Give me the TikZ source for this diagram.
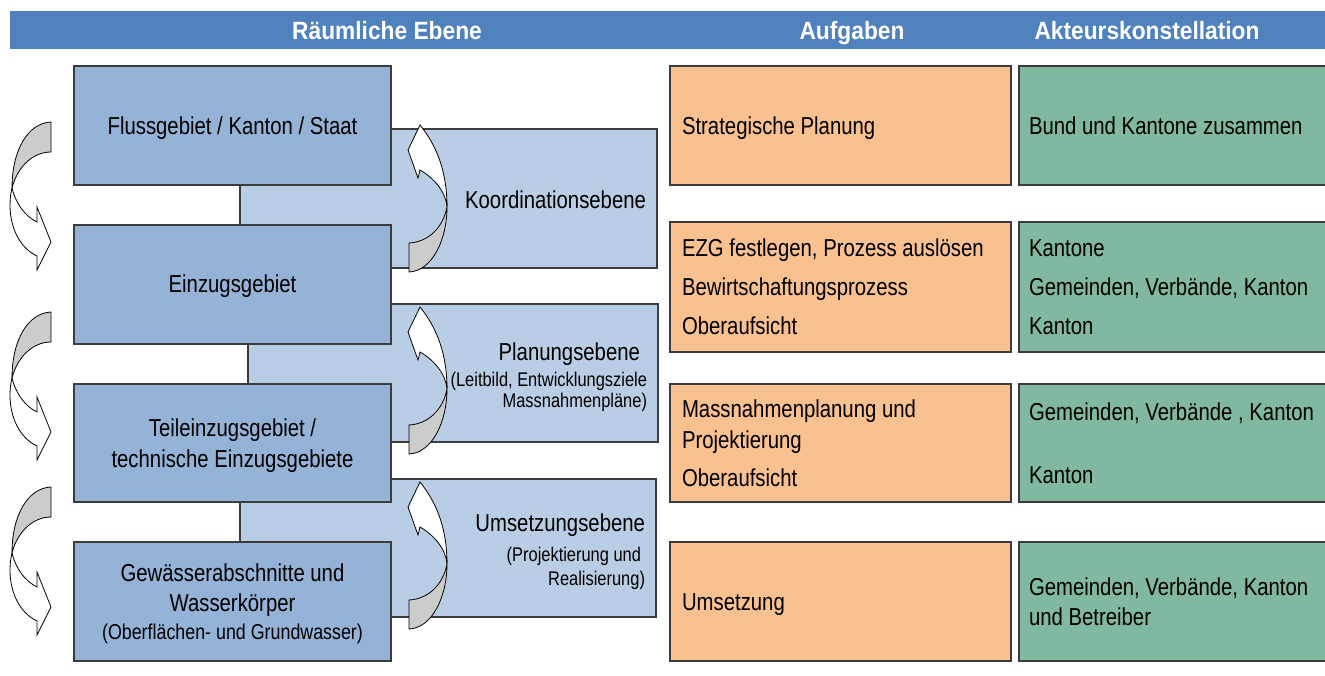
\documentclass[tikz,border=0pt]{standalone}
\usepackage{fontspec}
\setmainfont{Liberation Sans}[FakeStretch=0.83]
\newfontfamily\hdfont{Liberation Sans}[FakeStretch=0.91]
\definecolor{hdblue}{RGB}{79,129,189}
\definecolor{darkbox}{RGB}{149,179,215}
\definecolor{lightbox}{RGB}{185,205,229}
\definecolor{orangebox}{RGB}{249,193,144}
\definecolor{greenbox}{RGB}{128,184,160}
\definecolor{edge}{RGB}{60,60,60}
\definecolor{backgray}{RGB}{204,204,204}
\newcommand\fsN{\fontsize{24.5}{29}\selectfont}
\newcommand\fsS{\fontsize{19.8}{23}\selectfont}
\newcommand\fsM{\fontsize{21.5}{25}\selectfont}
\newcommand\fsH{\hdfont\bfseries\fontsize{25}{29}\selectfont}
\tikzset{
  boxbase/.style={draw=edge, line width=1.1pt, inner sep=0pt, outer sep=0pt, rectangle},
  dbox/.style={boxbase, fill=darkbox},
  lbox/.style={boxbase, fill=lightbox},
  obox/.style={boxbase, fill=orangebox},
  gbox/.style={boxbase, fill=greenbox},
  txt/.style={inner sep=0pt, outer sep=0pt, font=\fsN, text=black},
  stxt/.style={txt, font=\fsS},
  mtxt/.style={txt, font=\fsM},
  htxt/.style={inner sep=0pt, font=\fsH, text=white, anchor=base},
  arrback/.style={draw=black, line width=0.8pt, fill=backgray},
  arrfront/.style={draw=black, line width=0.8pt, fill=white},
}
\newcommand\boxnode[6]{%
  \node[#2, minimum width={#5-#3}, minimum height={#6-#4}] (#1) at ({(#3+#5)/2},{(#4+#6)/2}) {};}
\begin{document}
\begin{tikzpicture}[x=1pt, y=-1pt]
\useasboundingbox (0,0) rectangle (1325,675);
% header
\fill[hdblue] (10,11) rectangle (1326,49);
\node[htxt] (h1) at (387,39) {Räumliche Ebene};
\node[htxt] (h2) at (852,39) {Aufgaben};
\node[htxt] (h3) at (1147,39) {Akteurskonstellation};
% light boxes
\boxnode{l1}{lbox}{240}{129}{657}{268}
\boxnode{l2}{lbox}{248}{304}{658}{442}
\boxnode{l3}{lbox}{240}{479}{656}{617}
% dark boxes
\boxnode{d1}{dbox}{74}{66}{391}{185}
\boxnode{d2}{dbox}{74}{225}{391}{344}
\boxnode{d3}{dbox}{74}{384}{391}{502}
\boxnode{d4}{dbox}{74}{542}{391}{661}
% orange boxes
\boxnode{o1}{obox}{670}{66}{1011}{185}
\boxnode{o2}{obox}{670}{222}{1011}{352}
\boxnode{o3}{obox}{670}{384}{1011}{502}
\boxnode{o4}{obox}{670}{542}{1011}{661}
% green boxes
\boxnode{g1}{gbox}{1019}{66}{1330}{185}
\boxnode{g2}{gbox}{1019}{222}{1330}{352}
\boxnode{g3}{gbox}{1019}{384}{1330}{502}
\boxnode{g4}{gbox}{1019}{542}{1330}{661}
% dark box texts
\node[txt, anchor=base] (d1t) at (232.5,134.5) {Flussgebiet / Kanton / Staat};
\node[txt, anchor=base] (d2t) at (232.5,292.5) {Einzugsgebiet};
\node[txt, anchor=base] (d3ta) at (232.5,436.5) {Teileinzugsgebiet /};
\node[txt, anchor=base] (d3tb) at (232.5,467.5) {technische Einzugsgebiete};
\node[txt, anchor=base] (d4ta) at (232.5,581.5) {Gewässerabschnitte und};
\node[txt, anchor=base] (d4tb) at (232.5,611.5) {Wasserkörper};
\node[mtxt, anchor=base] (d4tc) at (232.5,639.5) {(Oberflächen- und Grundwasser)};
% light box texts
\node[txt, anchor=base east] (l1t) at (646,208.5) {Koordinationsebene};
\node[txt, anchor=base east] (l2ta) at (640,360.5) {Planungsebene};
\node[stxt, anchor=base east] (l2tb) at (647,386) {(Leitbild, Entwicklungsziele};
\node[stxt, anchor=base east] (l2tc) at (647,407) {Massnahmenpläne)};
\node[txt, anchor=base east] (l3ta) at (645,531.5) {Umsetzungsebene};
\node[stxt, anchor=base east] (l3tb) at (641,561) {(Projektierung und};
\node[stxt, anchor=base east] (l3tc) at (645,585) {Realisierung)};
% orange texts
\node[txt, anchor=base west] (o1t) at (682,134.5) {Strategische Planung};
\node[txt, anchor=base west] (o2ta) at (682,256.5) {EZG festlegen, Prozess auslösen};
\node[txt, anchor=base west] (o2tb) at (682,295.5) {Bewirtschaftungsprozess};
\node[txt, anchor=base west] (o2tc) at (682,334.5) {Oberaufsicht};
\node[txt, anchor=base west] (o3ta) at (682,417.5) {Massnahmenplanung und};
\node[txt, anchor=base west] (o3tb) at (682,448.5) {Projektierung};
\node[txt, anchor=base west] (o3tc) at (682,486.5) {Oberaufsicht};
\node[txt, anchor=base west] (o4t) at (682,610.5) {Umsetzung};
% green texts
\node[txt, anchor=base west] (g1t) at (1029,134.5) {Bund und Kantone zusammen};
\node[txt, anchor=base west] (g2ta) at (1029,256.5) {Kantone};
\node[txt, anchor=base west] (g2tb) at (1029,295.5) {Gemeinden, Verbände, Kanton};
\node[txt, anchor=base west] (g2tc) at (1029,334.5) {Kanton};
\node[txt, anchor=base west] (g3ta) at (1029,420.5) {Gemeinden, Verbände , Kanton};
\node[txt, anchor=base west] (g3tb) at (1029,483.5) {Kanton};
\node[txt, anchor=base west] (g4ta) at (1029,595.5) {Gemeinden, Verbände, Kanton};
\node[txt, anchor=base west] (g4tb) at (1029,625.5) {und Betreiber};
% left curved arrows
\foreach \dy in {0,190,365} {
  \begin{scope}[shift={(0,\dy)}]
    \path[arrback] (51,122) .. controls (28,123) and (12,150) .. (12,188)
      .. controls (17,168) and (32,152) .. (51,152) -- cycle;
    \path[arrfront] (12,188) .. controls (16,204) and (25,216) .. (37,222)
      -- (37,207) -- (51,242) -- (37,270) -- (37,256)
      .. controls (20,248) and (10,228) .. (10,205)
      .. controls (10,198) and (11,192) .. (12,188) -- cycle;
  \end{scope}
}
% right curved arrows
\foreach \dy in {0,182,357} {
  \begin{scope}[shift={(0,\dy)}]
    \path[arrback] (409,243) -- (409,272) .. controls (432,271) and (447,240) .. (447,207)
      .. controls (443,228) and (428,242) .. (409,243) -- cycle;
    \path[arrfront] (447,207) .. controls (447,172) and (437,146) .. (420,125)
      -- (408,150) -- (418,178) -- (420,170)
      .. controls (434,178) and (446,192) .. (447,207) -- cycle;
  \end{scope}
}
\end{tikzpicture}
\end{document}
